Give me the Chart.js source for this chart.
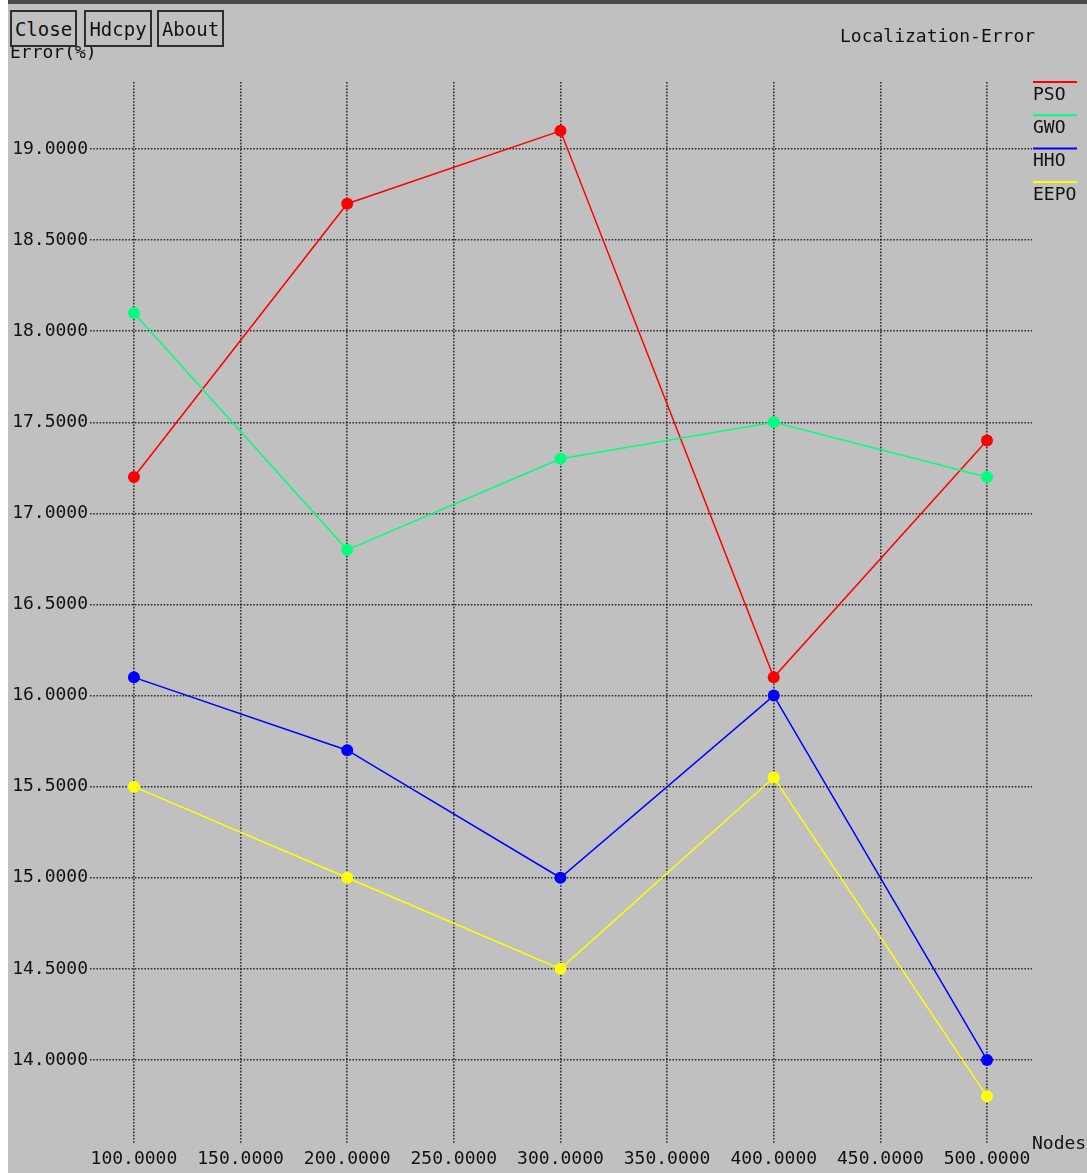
<!DOCTYPE html>
<html>
<head>
<meta charset="utf-8">
<title>Localization-Error</title>
<script src="https://cdn.jsdelivr.net/npm/chart.js@4/dist/chart.umd.min.js"></script>
<style>
  html, body { margin: 0; padding: 0; background: #ffffff; }
  #wrap { position: relative; width: 1087px; height: 1173px; overflow: hidden; }
  #plot { position: absolute; left: 0; top: 0; }
  .btn {
    position: absolute; top: 10px; height: 37px;
    box-sizing: border-box; border: 2px solid #2e2e2e; background: #c0c0c0;
    font: 19px "DejaVu Sans Mono", monospace; color: #111;
    display: flex; align-items: center; justify-content: center;
  }
</style>
</head>
<body>
<div id="wrap">
  <canvas id="plot" width="1087" height="1173"></canvas>
  <div class="btn" style="left:10px;width:67px;">Close</div>
  <div class="btn" style="left:84px;width:68px;">Hdcpy</div>
  <div class="btn" style="left:157px;width:67px;">About</div>
</div>
<script>
// Number of sensor nodes on the x axis
const nodes = [100, 200, 300, 400, 500];

// Localization error (%) per algorithm
const psoError  = [17.2, 18.7, 19.1, 16.1, 17.4];
const gwoError  = [18.1, 16.8, 17.3, 17.5, 17.2];
const hhoError  = [16.1, 15.7, 15.0, 16.0, 14.0];
const eepoError = [15.5, 15.0, 14.5, 15.55, 13.8];

const seriesNames  = ['PSO', 'GWO', 'HHO', 'EEPO'];
const seriesColors = ['#ff0000', '#00ff7f', '#0000ff', '#ffff00'];

// Axis ticks and titles
const xTicks = [100, 150, 200, 250, 300, 350, 400, 450, 500];
const yTicks = [14, 14.5, 15, 15.5, 16, 16.5, 17, 17.5, 18, 18.5, 19];
const chartTitle = 'Localization-Error';
const yAxisTitle = 'Error(%)';
const xAxisTitle = 'Nodes';

const FONT = '"DejaVu Sans Mono", monospace';

function toPoints(values) {
  return nodes.map((n, i) => ({ x: n, y: values[i] }));
}

const allSeries = [psoError, gwoError, hhoError, eepoError];
const datasets = allSeries.map((vals, i) => ({
  label: seriesNames[i],
  data: toPoints(vals),
  borderColor: seriesColors[i],
  backgroundColor: seriesColors[i],
  pointBackgroundColor: seriesColors[i],
  pointBorderColor: seriesColors[i],
  borderWidth: 1.5,
  pointRadius: 6,
  pointBorderWidth: 0,
  tension: 0,
  order: seriesNames.length - i
}));

// Grey window, top frame bar, and text decorations
const decorations = {
  id: 'decorations',
  beforeDraw(chart) {
    const ctx = chart.ctx;
    ctx.save();
    ctx.fillStyle = '#ffffff';
    ctx.fillRect(0, 0, chart.width, chart.height);
    ctx.fillStyle = '#c0c0c0';
    ctx.fillRect(8, 4, chart.width - 8, chart.height - 4);
    ctx.fillStyle = '#4a4a4a';
    ctx.fillRect(8, 0, chart.width - 8, 4);
    ctx.restore();
  },
  afterDraw(chart) {
    const ctx = chart.ctx;
    ctx.save();
    ctx.font = '18px ' + FONT;
    ctx.fillStyle = '#111111';
    ctx.textBaseline = 'middle';
    ctx.textAlign = 'left';
    ctx.fillText(chartTitle, 840, 37);
    ctx.fillText(yAxisTitle, 10, 53);
    ctx.fillText(xAxisTitle, 1032, 1144);

    // legend: coloured line with the name underneath
    chart.data.datasets.forEach((ds, i) => {
      const ly = 82 + i * 33.3;
      ctx.strokeStyle = ds.borderColor;
      ctx.lineWidth = 2;
      ctx.beginPath();
      ctx.moveTo(1033, ly);
      ctx.lineTo(1077, ly);
      ctx.stroke();
      ctx.fillStyle = '#111111';
      ctx.fillText(ds.label, 1033, ly + 13);
    });
    ctx.restore();
  }
};

const gridStyle = {
  color: 'rgba(20,20,20,0.85)',
  lineWidth: 1.6,
  drawTicks: false
};

new Chart(document.getElementById('plot'), {
  type: 'line',
  data: { datasets },
  options: {
    responsive: false,
    animation: false,
    events: [],
    layout: { padding: { left: 8, right: 55, top: 82, bottom: 0 } },
    plugins: { legend: { display: false }, tooltip: { enabled: false }, title: { display: false } },
    scales: {
      x: {
        type: 'linear',
        min: 79.4,
        max: 521.1,
        afterFit(scale) { scale.height = 30; },
        afterBuildTicks(scale) { scale.ticks = xTicks.map(v => ({ value: v })); },
        border: { display: false, dash: [1.6, 1.6] },
        grid: gridStyle,
        ticks: {
          includeBounds: false,
          autoSkip: false,
          maxRotation: 0,
          minRotation: 0,
          padding: 6,
          color: '#111111',
          font: { family: FONT, size: 18 },
          callback: v => Number(v).toFixed(4)
        }
      },
      y: {
        type: 'linear',
        min: 13.544,
        max: 19.368,
        afterFit(scale) { scale.width = 82; },
        afterBuildTicks(scale) { scale.ticks = yTicks.map(v => ({ value: v })); },
        border: { display: false, dash: [1.6, 1.6] },
        grid: gridStyle,
        ticks: {
          includeBounds: false,
          padding: 2,
          color: '#111111',
          font: { family: FONT, size: 18 },
          callback: v => Number(v).toFixed(4)
        }
      }
    }
  },
  plugins: [decorations]
});
</script>
</body>
</html>
